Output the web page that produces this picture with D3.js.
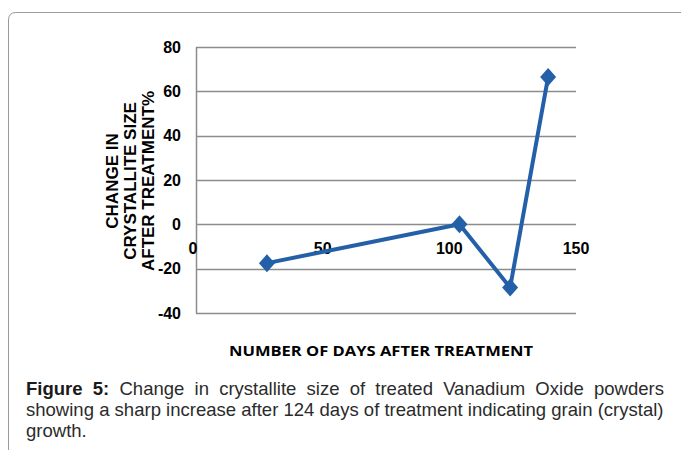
<!DOCTYPE html>
<html>
<head>
<meta charset="utf-8">
<script src="https://cdn.jsdelivr.net/npm/d3@7"></script>
<style>
  body { margin: 0; background: #fff; }
  svg { display: block; }
</style>
</head>
<body>
<svg id="chart" width="681" height="450"></svg>
<script>
// ---- data ----
const days = [28, 104, 124, 139];
const changePct = [-17.5, 0, -28.5, 66.5];
const xTicks = [0, 50, 100, 150];
const yTicks = [-40, -20, 0, 20, 40, 60, 80];
const yTitleLines = ["CHANGE IN", "CRYSTALLITE SIZE", "AFTER TREATMENT%"];
const xTitle = "NUMBER OF DAYS AFTER TREATMENT";
const captionBold = "Figure 5:";
const captionLines = [
  "Change in crystallite size of treated Vanadium Oxide powders",
  "showing a sharp increase after 124 days of treatment indicating grain (crystal)",
  "growth."
];

const svg = d3.select("#chart");

// frame
svg.append("path")
  .attr("d", "M8.5,460 L8.5,20 Q8.5,12.5 16,12.5 L690,12.5")
  .attr("fill", "none").attr("stroke", "#9a9a9a").attr("stroke-width", 1);

const x = d3.scaleLinear().domain([0, 150]).range([196, 576]);
const y = d3.scaleLinear().domain([-40, 80]).range([313, 47]);

// gridlines
svg.append("g").selectAll("line").data(yTicks).join("line")
  .attr("x1", x(0)).attr("x2", x(150))
  .attr("y1", d => Math.round(y(d)) + 0.5).attr("y2", d => Math.round(y(d)) + 0.5)
  .attr("stroke", "#8c8c8c").attr("stroke-width", 1.5);

// y axis line
svg.append("line")
  .attr("x1", x(0) + 0.5).attr("x2", x(0) + 0.5)
  .attr("y1", y(80)).attr("y2", y(-40))
  .attr("stroke", "#8c8c8c").attr("stroke-width", 1.5);

const boldFont = "'Liberation Sans', Arial, sans-serif";

// y tick labels
svg.append("g").selectAll("text").data(yTicks).join("text")
  .attr("x", 181).attr("y", d => y(d))
  .attr("dy", "0.36em")
  .attr("text-anchor", "end")
  .attr("font-family", boldFont).attr("font-weight", "bold").attr("font-size", 16)
  .attr("fill", "#000")
  .text(d => d);

// x tick labels (placed below the zero line)
svg.append("g").selectAll("text").data(xTicks).join("text")
  .attr("x", (d, i) => x(d) + (i === 0 ? -3 : 0)).attr("y", y(0) + 24)
  .attr("dy", "0.36em")
  .attr("text-anchor", "middle")
  .attr("font-family", boldFont).attr("font-weight", "bold").attr("font-size", 16)
  .attr("fill", "#000")
  .text(d => d);

// y title
const yt = svg.append("text")
  .attr("transform", "translate(130,181) rotate(-90)")
  .attr("text-anchor", "middle")
  .attr("font-family", boldFont).attr("font-weight", "bold").attr("font-size", 17)
  .attr("fill", "#000");
yTitleLines.forEach((t, i) => {
  yt.append("tspan").attr("x", 0).attr("y", (i - 1) * 18).attr("dy", "0.36em").text(t);
});

// x title
svg.append("text")
  .attr("x", 381).attr("y", 356)
  .attr("text-anchor", "middle")
  .attr("font-family", "'Open Sans', Calibri, sans-serif").attr("font-weight", "bold").attr("font-size", 14)
  .attr("textLength", 304).attr("lengthAdjust", "spacingAndGlyphs")
  .attr("fill", "#000")
  .text(xTitle);

// series line
const pts = days.map((d, i) => [d, changePct[i]]);
svg.append("path")
  .datum(pts)
  .attr("fill", "none")
  .attr("stroke", "#2360a8")
  .attr("stroke-width", 4)
  .attr("stroke-linejoin", "round")
  .attr("d", d3.line().x(d => x(d[0])).y(d => y(d[1])));

// diamond markers
svg.append("g").selectAll("path").data(pts).join("path")
  .attr("transform", d => `translate(${x(d[0])},${y(d[1])})`)
  .attr("d", "M0,-9 L8,0 L0,9 L-8,0 Z")
  .attr("fill", "#2360a8");

// caption: Arial-like, horizontally condensed, justified
const capFont = "'Liberation Sans', Arial, sans-serif";
const left = 26, right = 664;
const baselines = [395, 415.5, 436.5];
// measure line 2 natural width to find condensing factor
const probe = svg.append("text").attr("font-family", capFont).attr("font-size", 17.5).text(captionLines[1]);
const w2 = probe.node().getComputedTextLength();
probe.remove();
const sx = (right - left) / w2;

captionLines.forEach((line, i) => {
  const g = svg.append("g").attr("transform", `translate(${left},${baselines[i]}) scale(${sx},1)`);
  const t = g.append("text")
    .attr("x", 0).attr("y", 0)
    .attr("font-family", capFont).attr("font-size", 17.5).attr("fill", "#2b2b2b");
  if (i === 0) {
    t.append("tspan").attr("font-weight", "bold").attr("fill", "#1a1a1a").text(captionBold + " ");
  }
  t.append("tspan").text(line);
  if (i === 0) {
    const full = captionBold + " " + line;
    const spaces = (full.match(/ /g) || []).length;
    const w = t.node().getComputedTextLength();
    const extra = ((right - left) / sx - w) / spaces;
    t.attr("word-spacing", extra);
  }
});
</script>
</body>
</html>
